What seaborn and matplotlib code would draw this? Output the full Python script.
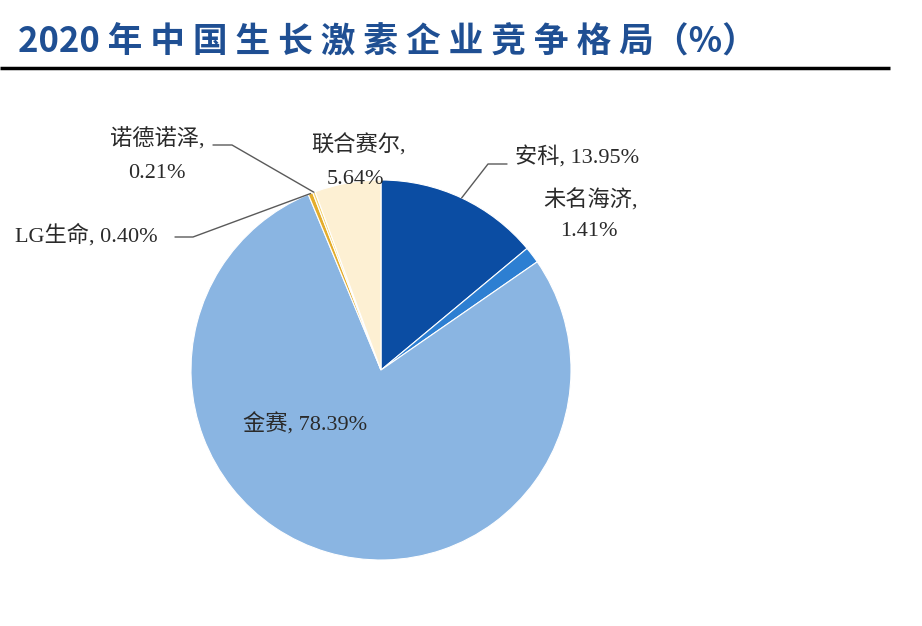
import numpy as np
import matplotlib.pyplot as plt
import seaborn as sns

# ================= DATA =================
companies = ["安科", "未名海济", "金赛", "LG生命", "诺德诺泽", "联合赛尔"]
shares = [13.95, 1.41, 78.39, 0.40, 0.21, 5.64]
colors = ["#0b4da3", "#2d7fd2", "#8ab5e2", "#e4ad2c", "#f3d271", "#fdf0d3"]
title = "2020 年中国生长激素企业竞争格局（%）"

# ================= STYLE =================
sns.set_theme(style="white")
plt.rcParams["font.family"] = ["Liberation Serif", "Noto Sans CJK SC", "DejaVu Sans"]

W, H = 922, 626
fig = plt.figure(figsize=(W / 100, H / 100), dpi=100)
ax = fig.add_axes([0, 0, 1, 1])


def py(y):
    # pixel row (from top) -> data y
    return H - y


# ================= PIE =================
cx, cy, r = 381, py(370), 190
wedges, _ = ax.pie(
    shares,
    colors=colors,
    startangle=90,
    counterclock=False,
    center=(cx, cy),
    radius=r,
    frame=True,
    wedgeprops=dict(edgecolor="white", linewidth=0.8),
)
ax.set_xlim(0, W)
ax.set_ylim(0, H)
ax.set_aspect("equal")
ax.axis("off")


def edge_point(w, frac=0.5):
    a = np.deg2rad(w.theta1 + (w.theta2 - w.theta1) * frac)
    return cx + r * np.cos(a), cy + r * np.sin(a)


labels = [f"{c}, {s:.2f}%" for c, s in zip(companies, shares)]
txt = dict(fontsize=16, color="#2a2a2a")
lead = dict(color="#5a5a5a", lw=1)

# 安科
ax.text(515, py(158), labels[0], ha="left", va="center", **txt)
ex, ey = edge_point(wedges[0], 0.5)
ax.plot([ex, 488, 507], [ey, py(164), py(164)], **lead)

# 未名海济
ax.text(590, py(200), f"{companies[1]},", ha="center", va="center", **txt)
ax.text(589, py(232), f"{shares[1]:.2f}%", ha="center", va="center", **txt)

# 金赛
ax.text(305, py(424), labels[2], ha="center", va="center", **txt)

# LG生命
ax.text(15, py(235), labels[3], ha="left", va="center", **txt)
ex, ey = edge_point(wedges[3])
ax.plot([175, 193, ex], [py(237), py(237), ey], **lead)

# 诺德诺泽
ax.text(157, py(139), f"{companies[4]},", ha="center", va="center", **txt)
ax.text(157, py(173), f"{shares[4]:.2f}%", ha="center", va="center", **txt)
ex, ey = edge_point(wedges[4])
ax.plot([213, 232, ex], [py(145), py(145), ey], **lead)

# 联合赛尔
ax.text(358, py(145), f"{companies[5]},", ha="center", va="center", **txt)
ax.text(355, py(180), f"{shares[5]:.2f}%", ha="center", va="center", **txt)

# ================= TITLE =================
# spaced out like the reference heading
spaced_title = title[:5] + " ".join(title[5:18]) + title[18:]
fig.text(18 / W, 1 - 42 / H, spaced_title, ha="left", va="center",
         fontsize=25, fontweight="bold", color="#1f4f93",
         family=["Noto Sans CJK SC", "DejaVu Sans"])
ax.plot([0, 890], [py(68), py(68)], color="black", lw=2.5, solid_capstyle="butt")

fig.savefig("out.png", dpi=100)
